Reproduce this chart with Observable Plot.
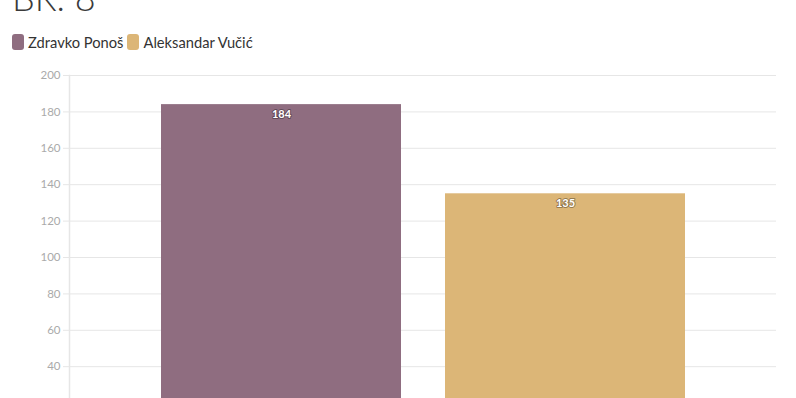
<!DOCTYPE html>
<html>
<head>
<meta charset="utf-8">
<script src="https://cdn.jsdelivr.net/npm/d3@7"></script>
<script src="https://cdn.jsdelivr.net/npm/@observablehq/plot@0.6"></script>
<style>
  html, body { margin: 0; padding: 0; background: #fff; overflow: hidden; width: 796px; height: 398px; }
  body { font-family: "Source Sans Pro", Lato, "Open Sans", sans-serif; position: relative; }
  #title { position: absolute; left: 12px; top: -23px; font-size: 36px; color: #3a3a3a; font-weight: 300; line-height: 40px; }
  #legend { position: absolute; left: 12px; top: 33px; display: flex; align-items: center; font-size: 14.7px; color: #333; }
  .item { display: flex; align-items: center; margin-right: 4px; }
  .sw { width: 12px; height: 16px; border-radius: 3px; margin-right: 4px; }
  #chart { position: absolute; left: 0; top: 58px; }
</style>
</head>
<body>
<div id="title">BR. 8</div>
<div id="legend"></div>
<div id="chart"></div>
<script>
const candidates = ["Zdravko Ponoš", "Aleksandar Vučić"];
const votes = [184, 135];
const colors = ["#8f6d80", "#dcb677"];
const yTicks = [0, 20, 40, 60, 80, 100, 120, 140, 160, 180, 200];

const data = candidates.map((c, i) => ({candidate: c, votes: votes[i]}));

const legend = document.getElementById("legend");
candidates.forEach((c, i) => {
  const it = document.createElement("div");
  it.className = "item";
  it.innerHTML = `<span class="sw" style="background:${colors[i]}"></span><span>${c}</span>`;
  legend.appendChild(it);
});

const chart = Plot.plot({
  width: 796,
  height: 411,
  marginTop: 17,
  marginLeft: 69,
  marginRight: 20,
  marginBottom: 30,
  style: {fontFamily: "Lato, 'Source Sans Pro', sans-serif", background: "transparent"},
  x: {domain: candidates, paddingInner: 0.155, paddingOuter: 0.322, axis: null},
  y: {domain: [0, 200], axis: null},
  color: {domain: candidates, range: colors},
  marks: [
    Plot.gridY(yTicks, {stroke: "#e6e6e6", strokeOpacity: 1, strokeWidth: 1}),
    Plot.frame({anchor: "left", stroke: "#e6e6e6", strokeWidth: 1.5}),
    Plot.axisY(yTicks, {tickSize: 6, stroke: "#e6e6e6", color: "#aaa", fill: "#aaa", fontSize: 11.5, tickPadding: 3, label: null}),
    Plot.barY(data, {x: "candidate", y: "votes", fill: "candidate", fillOpacity: 1}),
    Plot.text(data, {x: "candidate", y: "votes", text: d => String(d.votes), dy: 10, fill: "#fff", stroke: "#00000055", strokeWidth: 2, fontWeight: "bold", fontSize: 11})
  ]
});
document.getElementById("chart").appendChild(chart);
</script>
</body>
</html>
